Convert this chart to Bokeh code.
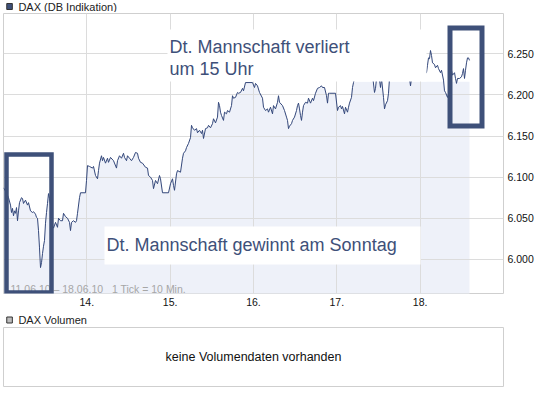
import numpy as np
from bokeh.plotting import figure
from bokeh.layouts import column
from bokeh.models import Range1d, FixedTicker
from bokeh.core.properties import value
from bokeh.embed import file_html
from bokeh.resources import INLINE

# ---------------- data ----------------
# session position: 0 = start of Fri 11.06., 1 = Mon 14., ... 5 = Fri 18. (10-min ticks)
fri11_t = [0.000, 0.036, 0.060, 0.084, 0.096, 0.108, 0.120, 0.132, 0.144, 0.156, 0.168, 0.180,
           0.192, 0.216, 0.228, 0.240, 0.264, 0.288, 0.300, 0.324, 0.348, 0.360, 0.384, 0.396,
           0.408, 0.420, 0.432, 0.444, 0.456, 0.468, 0.480, 0.492, 0.504, 0.516, 0.528, 0.540,
           0.552, 0.564, 0.576, 0.588, 0.600, 0.624, 0.648, 0.660, 0.684, 0.708, 0.720, 0.744,
           0.768, 0.792, 0.804, 0.816, 0.840, 0.864, 0.876, 0.888, 0.912, 0.924, 0.984]
fri11_v = [6087, 6081, 6075, 6066, 6057, 6062, 6053, 6059, 6056, 6063, 6047, 6059,
           6069, 6075, 6074, 6068, 6072, 6066, 6069, 6059, 6057, 6058, 6055, 6051,
           6050, 6035, 6014, 5990, 5996, 6007, 6016, 6023, 6044, 6057, 6068, 6080,
           6074, 6066, 6053, 6041, 6038, 6045, 6039, 6050, 6047, 6047, 6056, 6052,
           6050, 6045, 6035, 6045, 6047, 6045, 6047, 6056, 6075, 6081, 6081]

mon14_t = [0.996, 1.008, 1.032, 1.068, 1.080, 1.104, 1.128, 1.140, 1.152, 1.176, 1.188, 1.200,
           1.224, 1.248, 1.260, 1.284, 1.320, 1.356, 1.368, 1.392, 1.416, 1.440, 1.452, 1.476,
           1.488, 1.512, 1.536, 1.560, 1.584, 1.608, 1.620, 1.644, 1.668, 1.704, 1.728, 1.740,
           1.764, 1.788, 1.800, 1.824, 1.848, 1.872, 1.884, 1.908, 1.980]
mon14_v = [6096, 6114, 6113, 6111, 6113, 6102, 6098, 6108, 6117, 6126, 6120, 6124,
           6117, 6123, 6118, 6124, 6120, 6111, 6120, 6126, 6123, 6129, 6124, 6120,
           6126, 6123, 6120, 6124, 6130, 6129, 6123, 6118, 6117, 6112, 6111, 6102,
           6100, 6096, 6086, 6096, 6092, 6102, 6098, 6081, 6081]

tue15_t = [2.004, 2.028, 2.040, 2.052, 2.076, 2.088, 2.124, 2.148, 2.160, 2.184, 2.196, 2.220,
           2.244, 2.256, 2.268, 2.292, 2.316, 2.328, 2.352, 2.376, 2.388, 2.400, 2.424, 2.448,
           2.460, 2.484, 2.508, 2.520, 2.544, 2.568, 2.580, 2.592, 2.604, 2.616, 2.640, 2.652,
           2.676, 2.688, 2.712, 2.736, 2.748, 2.760, 2.784, 2.808, 2.820, 2.844, 2.868, 2.880,
           2.904, 2.988]
tue15_v = [6092, 6098, 6090, 6084, 6104, 6108, 6106, 6123, 6129, 6132, 6136, 6141,
           6148, 6163, 6160, 6157, 6159, 6154, 6157, 6153, 6157, 6147, 6159, 6160,
           6163, 6160, 6165, 6171, 6166, 6173, 6191, 6187, 6179, 6175, 6169, 6179,
           6177, 6181, 6179, 6187, 6199, 6196, 6197, 6203, 6202, 6203, 6208, 6205,
           6215, 6215]

wed16_t = [3.012, 3.024, 3.048, 3.072, 3.108, 3.120, 3.144, 3.168, 3.180, 3.204, 3.228, 3.240,
           3.264, 3.288, 3.300, 3.312, 3.348, 3.372, 3.396, 3.408, 3.420, 3.432, 3.456, 3.468,
           3.492, 3.516, 3.528, 3.540, 3.552, 3.564, 3.576, 3.588, 3.600, 3.624, 3.648, 3.660,
           3.684, 3.708, 3.720, 3.744, 3.768, 3.792, 3.816, 3.828, 3.852, 3.876, 3.888, 3.900,
           3.912, 3.984]
wed16_v = [6209, 6214, 6211, 6203, 6196, 6185, 6181, 6183, 6179, 6185, 6177, 6187,
           6183, 6191, 6199, 6191, 6187, 6181, 6173, 6169, 6159, 6162, 6165, 6169,
           6173, 6181, 6187, 6190, 6183, 6175, 6169, 6179, 6187, 6191, 6190, 6196,
           6190, 6196, 6193, 6202, 6208, 6209, 6211, 6209, 6209, 6199, 6190, 6202,
           6202, 6202]

thu17_t = [4.008, 4.020, 4.044, 4.056, 4.068, 4.092, 4.104, 4.128, 4.140, 4.152, 4.176, 4.188,
           4.200, 4.224, 4.260, 4.296, 4.332, 4.368, 4.404, 4.428, 4.452, 4.464, 4.476, 4.500,
           4.524, 4.536, 4.560, 4.572, 4.584, 4.608, 4.620, 4.632, 4.668, 4.704, 4.740, 4.776,
           4.812, 4.848, 4.872, 4.884, 4.896, 4.920, 4.992]
thu17_v = [6181, 6185, 6187, 6183, 6186, 6177, 6185, 6179, 6185, 6190, 6197, 6209,
           6215, 6224, 6230, 6227, 6232, 6226, 6230, 6224, 6203, 6208, 6220, 6227,
           6209, 6220, 6197, 6183, 6188, 6193, 6202, 6220, 6227, 6230, 6232, 6227,
           6230, 6226, 6220, 6211, 6220, 6227, 6227]

fri18_t = [5.016, 5.052, 5.076, 5.088, 5.100, 5.112, 5.124, 5.136, 5.148, 5.172, 5.184, 5.208,
           5.220, 5.244, 5.256, 5.280, 5.292, 5.304, 5.328, 5.352, 5.376, 5.388, 5.412, 5.424,
           5.436, 5.448, 5.472, 5.496, 5.508, 5.520, 5.532, 5.544, 5.556, 5.568, 5.580, 5.592]
fri18_v = [6230, 6227, 6227, 6236, 6245, 6244, 6254, 6248, 6239, 6237, 6233, 6236,
           6232, 6227, 6230, 6218, 6205, 6203, 6197, 6205, 6230, 6224, 6227, 6220,
           6214, 6220, 6220, 6222, 6226, 6232, 6220, 6230, 6239, 6245, 6245, 6242]

day_ticks = [1, 2, 3, 4, 5]
day_labels = ["14.", "15.", "16.", "17.", "18."]
price_ticks = [6000, 6050, 6100, 6150, 6200, 6250]
price_labels = ["6.000", "6.050", "6.100", "6.150", "6.200", "6.250"]

title_main = "DAX (DB Indikation)"
title_vol = "DAX Volumen"
period_note = "11.06.10 \u2013 18.06.10\u00a0\u00a0\u00a01 Tick = 10 Min."
note_top = ["Dt. Mannschaft verliert", "um 15 Uhr"]
note_bottom = "Dt. Mannschaft gewinnt am Sonntag"
no_volume = "keine Volumendaten vorhanden"

# ---------------- styles ----------------
FONT = value("Liberation Sans")
NAVY = "#3e5079"
LINE = "#33477a"
FILL = "#eef1f9"
GRID = "#dcdcdc"
W = 537

t = np.array(fri11_t + mon14_t + tue15_t + wed16_t + thu17_t + fri18_t)
v = np.array(fri11_v + mon14_v + tue15_v + wed16_v + thu17_v + fri18_v, dtype=float)

Y0, Y1 = 5958.5, 6299.0
FILL_CAP = 6216.0


def header(height, y_top, y_bot, swatch_fill, text):
    h = figure(width=W, height=height, x_range=Range1d(0, W), y_range=Range1d(y_bot, y_top),
               min_border=0, toolbar_location=None, output_backend="svg",
               x_axis_location=None, y_axis_location=None, outline_line_color=None)
    h.grid.visible = False
    mid = (y_top + y_bot) / 2.0
    h.quad(left=[3.5], right=[9.5], top=[mid - 3], bottom=[mid + 3],
           fill_color=swatch_fill, line_color="#333333", line_width=1)
    h.text(x=[16], y=[mid], text=[text], text_font=FONT, text_font_size="11px",
           text_color="#222222", text_baseline="middle", text_align="left")
    return h


hdr1 = header(12, 0, 12, NAVY, title_main)

p = figure(width=W, height=301, x_range=Range1d(0, 6), y_range=Range1d(Y0, Y1),
           y_axis_location="right", toolbar_location=None, output_backend="svg",
           min_border_left=3, min_border_right=34, min_border_top=1, min_border_bottom=20,
           outline_line_color="#cfcfcf", background_fill_color="white")

p.xaxis.ticker = FixedTicker(ticks=day_ticks)
p.xaxis.major_label_overrides = {k: s for k, s in zip(day_ticks, day_labels)}
p.yaxis.ticker = FixedTicker(ticks=price_ticks)
p.yaxis.major_label_overrides = {k: s for k, s in zip(price_ticks, price_labels)}
for ax in (p.xaxis, p.yaxis):
    ax.axis_line_color = None
    ax.major_tick_line_color = None
    ax.minor_tick_line_color = None
    ax.major_tick_out = 0
    ax.major_tick_in = 0
    ax.major_label_text_font = "Liberation Sans"
    ax.major_label_text_font_size = "10.5px"
    ax.major_label_text_color = "#111111"
p.xaxis.major_label_standoff = 4
p.yaxis.major_label_standoff = 4
p.xgrid.ticker = FixedTicker(ticks=day_ticks)
p.ygrid.ticker = FixedTicker(ticks=price_ticks)
p.grid.grid_line_color = GRID
p.grid.grid_line_width = 1

# area under the price line
p.varea(x=t, y1=np.full(len(t), Y0 - 20), y2=np.minimum(v, FILL_CAP),
        fill_color=FILL, level="image")
# price line
p.line(t, v, line_color=LINE, line_width=1)

# period note
p.text(x=[0.084], y=[5963.4], text=[period_note], text_font=FONT, text_font_size="10.5px",
       text_color="#a6a6a6", text_baseline="alphabetic")

# white annotation boxes
p.quad(left=[1.968], right=[5.076], top=[6279.5], bottom=[6216.3],
       fill_color="white", line_color=None)
p.quad(left=[1.212], right=[5.004], top=[6040.0], bottom=[5993.8],
       fill_color="white", line_color=None)
p.text(x=[1.992, 1.992], y=[6257.7, 6232.1], text=note_top, text_font=FONT,
       text_font_size="18px", text_color=NAVY, text_baseline="alphabetic")
p.text(x=[1.236], y=[6016.9], text=[note_bottom], text_font=FONT,
       text_font_size="18px", text_color=NAVY, text_baseline="alphabetic")

# highlight frames
p.quad(left=[0.036], right=[0.576], top=[6127.6], bottom=[5959.7],
       fill_color=None, line_color=NAVY, line_width=4.5, line_join="miter")
p.quad(left=[5.358], right=[5.742], top=[6281.4], bottom=[6162.2],
       fill_color=None, line_color=NAVY, line_width=5, line_join="miter")

hdr2 = header(13, 313, 326, "#bdbdbd", title_vol)

vol = figure(width=W, height=61, x_range=Range1d(0, 1), y_range=Range1d(0, 1),
             toolbar_location=None, output_backend="svg",
             x_axis_location=None, y_axis_location=None,
             min_border_left=3, min_border_right=34, min_border_top=1, min_border_bottom=1,
             outline_line_color="#cfcfcf")
vol.grid.visible = False
vol.text(x=[0.5], y=[0.5], text=[no_volume], text_font=FONT, text_font_size="12.5px",
         text_color="#111111", text_align="center", text_baseline="middle")

layout = column(hdr1, p, hdr2, vol, spacing=0)

open("out.html", "w").write(file_html(layout, INLINE))
